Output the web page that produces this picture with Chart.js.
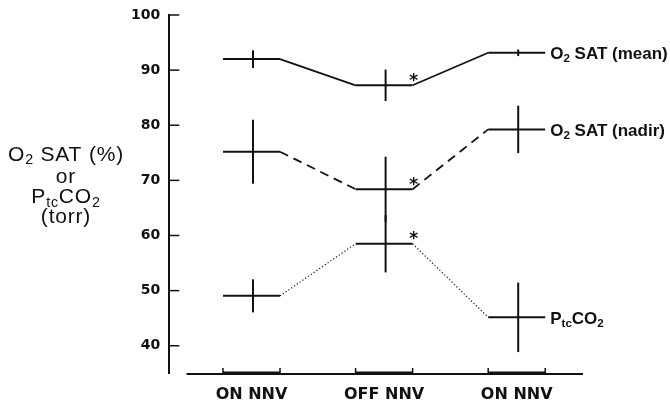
<!DOCTYPE html>
<html>
<head>
<meta charset="utf-8">
<script src="https://cdn.jsdelivr.net/npm/chart.js@4"></script>
<style>
  html, body { margin: 0; padding: 0; background: #fff; }
</style>
</head>
<body>
<canvas id="chart" width="670" height="402"></canvas>
<script>
// values
const groups = ['ON NNV', 'OFF NNV', 'ON NNV'];
const yTicks = [40, 50, 60, 70, 80, 90, 100];

const meanSat = [92.0, 87.25, 93.15];
const meanSatErr = [1.6, 2.85, 0.6];
const nadirSat = [75.2, 68.4, 79.25];
const nadirSatErr = [5.8, 5.9, 4.3];
const ptcCO2 = [49.05, 58.5, 45.15];
const ptcCO2Err = [3.0, 5.2, 6.3];
const significant = [false, true, false]; // asterisk at OFF NNV

const half = 0.215; // half width of each group's horizontal bar, in x units
const ink = '#111';

const series = [
  { values: meanSat, err: meanSatErr, dash: [], width: 1.8,
    label: [['O', 0], ['2', 1], [' SAT (mean)', 0]] },
  { values: nadirSat, err: nadirSatErr, dash: [9, 6], width: 1.8,
    label: [['O', 0], ['2', 1], [' SAT (nadir)', 0]] },
  { values: ptcCO2, err: ptcCO2Err, dash: [1.2, 2.2], width: 1.2,
    label: [['P', 0], ['tc', 1], ['CO', 0], ['2', 1]] }
];

function segPoints(vals) {
  const pts = [];
  vals.forEach((v, i) => {
    pts.push({ x: i - half, y: v }, { x: i + half, y: v });
  });
  return pts;
}

function drawRich(ctx, parts, x, baseline, size, weight, family, align, spacing) {
  ctx.letterSpacing = (spacing || 0) + 'px';
  let w = 0;
  parts.forEach(([t, sub]) => {
    ctx.font = `${weight} ${sub ? size * 0.68 : size}px ${family}`;
    w += ctx.measureText(t).width;
  });
  let cx = align === 'center' ? x - w / 2 : x;
  ctx.textAlign = 'left';
  ctx.textBaseline = 'alphabetic';
  parts.forEach(([t, sub]) => {
    ctx.font = `${weight} ${sub ? size * 0.68 : size}px ${family}`;
    ctx.fillText(t, cx, baseline + (sub ? size * 0.17 : 0));
    cx += ctx.measureText(t).width;
  });
  ctx.letterSpacing = '0px';
}

const extras = {
  id: 'extras',
  afterDatasetsDraw(chart) {
    const { ctx, chartArea, scales: { x, y } } = chart;
    ctx.save();
    ctx.strokeStyle = ink;
    ctx.fillStyle = ink;
    ctx.lineCap = 'butt';

    // y tick marks, pointing inwards
    ctx.lineWidth = 1.5;
    yTicks.forEach(v => {
      const py = y.getPixelForValue(v);
      ctx.beginPath();
      ctx.moveTo(chartArea.left, py);
      ctx.lineTo(chartArea.left + 10, py);
      ctx.stroke();
    });

    // x axis with a bracket under each group
    const ay = chartArea.bottom + 0.7;
    ctx.lineWidth = 2;
    ctx.beginPath();
    ctx.moveTo(x.getPixelForValue(-0.49), ay);
    ctx.lineTo(chartArea.right, ay);
    ctx.stroke();
    groups.forEach((g, i) => {
      const l = x.getPixelForValue(i - half), r = x.getPixelForValue(i + half);
      ctx.lineWidth = 1.5;
      ctx.beginPath();
      ctx.moveTo(l, ay); ctx.lineTo(l, ay - 6);
      ctx.moveTo(r, ay); ctx.lineTo(r, ay - 6);
      ctx.moveTo(l, ay - 1.8); ctx.lineTo(r, ay - 1.8);
      ctx.stroke();
    });

    // error bars, asterisks and line labels
    series.forEach(s => {
      ctx.lineWidth = 2;
      s.values.forEach((v, i) => {
        const px = x.getPixelForValue(i) + 1.5;
        ctx.beginPath();
        ctx.moveTo(px, y.getPixelForValue(v + s.err[i]));
        ctx.lineTo(px, y.getPixelForValue(v - s.err[i]));
        ctx.stroke();
        if (significant[i]) {
          ctx.font = 'bold 17px "DejaVu Sans"';
          ctx.textAlign = 'center';
          ctx.textBaseline = 'alphabetic';
          ctx.fillText('*', x.getPixelForValue(i + half) + 1, y.getPixelForValue(v) + 0.5);
        }
      });
      const last = s.values.length - 1;
      drawRich(ctx, s.label, x.getPixelForValue(last + half) + 5,
        y.getPixelForValue(s.values[last]) + 6.5, 17, 'bold', '"Liberation Sans"', 'left');
    });

    // y axis title
    const tf = '"Liberation Sans"';
    drawRich(ctx, [['O', 0], ['2', 1], [' SAT (%)', 0]], 66, 160.7, 21, 'normal', tf, 'center', 0.8);
    drawRich(ctx, [['or', 0]], 66, 183.3, 21, 'normal', tf, 'center', 0.8);
    drawRich(ctx, [['P', 0], ['tc', 1], ['CO', 0], ['2', 1]], 66, 203.3, 21, 'normal', tf, 'center', 0.8);
    drawRich(ctx, [['(torr)', 0]], 66, 223, 21, 'normal', tf, 'center', 0.8);
    ctx.restore();
  }
};

new Chart(document.getElementById('chart'), {
  type: 'line',
  data: {
    datasets: series.map(s => ({
      data: segPoints(s.values),
      borderColor: ink,
      borderWidth: s.width,
      pointRadius: 0,
      fill: false,
      tension: 0,
      segment: {
        borderDash: c => (c.p0DataIndex % 2 === 0 ? [] : s.dash),
        borderWidth: c => (c.p0DataIndex % 2 === 0 ? 2 : s.width)
      }
    }))
  },
  options: {
    responsive: false,
    animation: false,
    devicePixelRatio: 1,
    layout: { padding: { top: 15, right: 87, left: 0, bottom: 0 } },
    plugins: {
      legend: { display: false },
      tooltip: { enabled: false }
    },
    scales: {
      x: {
        type: 'linear',
        min: -0.62,
        max: 2.5,
        afterBuildTicks: s => { s.ticks = groups.map((g, i) => ({ value: i })); },
        afterFit: s => { s.height = 28.7; },
        grid: { display: false },
        border: { display: false },
        ticks: {
          callback: v => groups[v],
          font: { family: 'DejaVu Sans', size: 16, weight: 'bold' },
          color: ink,
          padding: 4,
          maxRotation: 0,
          autoSkip: false
        }
      },
      y: {
        min: 35,
        max: 100,
        afterBuildTicks: s => { s.ticks = yTicks.map(v => ({ value: v })); },
        afterFit: s => { s.width = 169.3; },
        grid: { display: false },
        border: { display: true, color: ink, width: 2 },
        ticks: {
          font: { family: 'DejaVu Sans', size: 14, weight: 'bold' },
          color: ink,
          padding: 1
        }
      }
    }
  },
  plugins: [extras]
});
</script>
</body>
</html>
